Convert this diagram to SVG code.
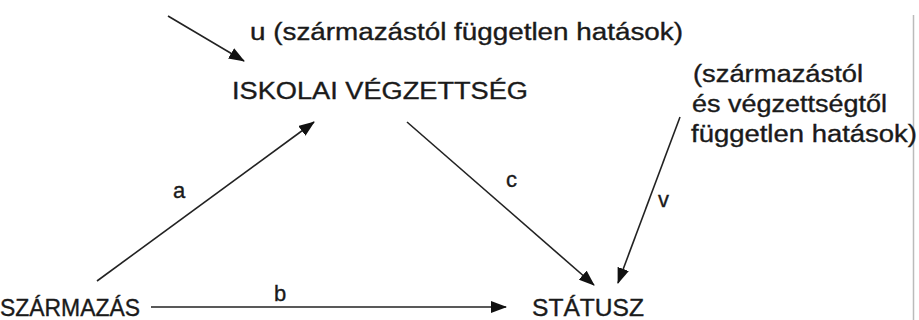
<svg xmlns="http://www.w3.org/2000/svg" width="919" height="320" viewBox="0 0 919 320">
<style>
text{font-family:"Liberation Sans",Arial,sans-serif;fill:#1a1a1a;stroke:#1a1a1a;stroke-width:0.35}
.n{font-size:23px}
.l{font-size:22px}
.c line{stroke:#222;stroke-width:1.6}
</style>
<defs>
<marker id="ah" markerUnits="userSpaceOnUse" markerWidth="16" markerHeight="12" refX="15" refY="6" orient="auto">
<path d="M0,0 L16,6 L0,12 Z" fill="#111"/>
</marker>
</defs>
<rect width="919" height="320" fill="#fff"/>
<line x1="913.5" y1="15" x2="913.5" y2="320" stroke="#bbb" stroke-width="1.5"/>
<g id="iskolai"><text class="n" x="232" y="99" textLength="296" lengthAdjust="spacingAndGlyphs">ISKOLAI VÉGZETTSÉG</text></g>
<g id="szarmazas"><text class="n" x="0" y="316" textLength="140" lengthAdjust="spacingAndGlyphs">SZÁRMAZÁS</text></g>
<g id="statusz"><text class="n" x="532" y="316" textLength="112" lengthAdjust="spacingAndGlyphs">STÁTUSZ</text></g>
<g id="u"><text class="n" x="250" y="40" textLength="433" lengthAdjust="spacingAndGlyphs">u (származástól független hatások)</text></g>
<g id="v-note">
<text class="n" x="693" y="82" textLength="170" lengthAdjust="spacingAndGlyphs">(származástól</text>
<text class="n" x="692" y="112" textLength="195" lengthAdjust="spacingAndGlyphs">és végzettségtől</text>
<text class="n" x="691" y="142" textLength="226" lengthAdjust="spacingAndGlyphs">független hatások)</text>
</g>
<g class="c" id="connectors">
<line x1="168" y1="16" x2="244" y2="61" marker-end="url(#ah)"/>
<line x1="97" y1="281" x2="314" y2="122" marker-end="url(#ah)"/>
<line x1="407" y1="122" x2="594" y2="285" marker-end="url(#ah)"/>
<line x1="680" y1="117" x2="618" y2="283" marker-end="url(#ah)"/>
<line x1="151" y1="307" x2="506" y2="307" marker-end="url(#ah)"/>
<text class="l" x="173" y="198">a</text>
<text class="l" x="274" y="301">b</text>
<text class="l" x="506" y="187">c</text>
<text class="l" x="658" y="207">v</text>
</g>
</svg>
